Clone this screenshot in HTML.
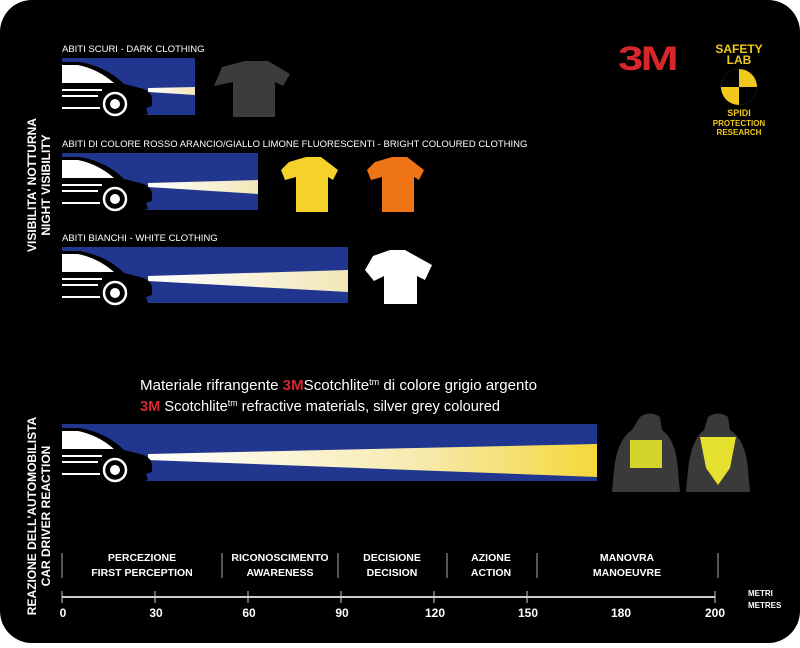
<!DOCTYPE html>
<html><head><meta charset="utf-8"><style>
html,body{margin:0;padding:0;background:#fff;}
body{width:800px;height:643px;overflow:hidden;font-family:"Liberation Sans",Arial,sans-serif;}
</style></head><body>
<svg width="800" height="643" viewBox="0 0 800 643" xmlns="http://www.w3.org/2000/svg">
<defs>
<linearGradient id="beam" x1="0" x2="1" y1="0" y2="0">
<stop offset="0" stop-color="#ffffff"/><stop offset="0.6" stop-color="#f7eab0"/><stop offset="1" stop-color="#f5d83a"/>
</linearGradient>
<linearGradient id="beam2" x1="0" x2="1"><stop offset="0" stop-color="#fff"/><stop offset="1" stop-color="#f2e6b8"/></linearGradient>
<g id="car">
<path d="M0 0 L18 0 Q45 5 62 22 L78 26 Q88 28 90 36 L90 44 L84 46 L86 52 L78 54 L0 54 Z" fill="#000"/>
<path d="M0 3 L16 3 Q36 7 52 21 L0 21 Z" fill="#fff"/>
<path d="M0 28 L40 28 M0 34 L36 34 M0 46 L38 46" stroke="#fff" stroke-width="2"/>
<circle cx="53" cy="42" r="11" fill="#000" stroke="#fff" stroke-width="2.5"/>
<circle cx="53" cy="42" r="5" fill="#fff"/>
</g>
</defs>
<rect x="0" y="0" width="800" height="643" rx="32" fill="#000"/>

<g fill="#fff" font-weight="bold" font-size="12">
<text transform="translate(36,185) rotate(-90)" text-anchor="middle">VISIBILITA' NOTTURNA</text>
<text transform="translate(50,185) rotate(-90)" text-anchor="middle">NIGHT VISIBILITY</text>
<text transform="translate(36,516) rotate(-90)" text-anchor="middle">REAZIONE DELL'AUTOMOBILISTA</text>
<text transform="translate(50,516) rotate(-90)" text-anchor="middle">CAR DRIVER REACTION</text>
</g>

<g fill="#fff" font-size="9.5">
<text x="62" y="52">ABITI SCURI - DARK CLOTHING</text>
<text x="62" y="147">ABITI DI COLORE ROSSO ARANCIO/GIALLO LIMONE FLUORESCENTI - BRIGHT COLOURED CLOTHING</text>
<text x="62" y="241">ABITI BIANCHI - WHITE CLOTHING</text>
</g>

<rect x="62" y="58" width="133" height="57" fill="#21368f"/>
<polygon points="148,88 195,87 195,95 148,92" fill="url(#beam2)"/>
<use href="#car" x="62" y="62"/>
<rect x="62" y="153" width="196" height="57" fill="#21368f"/>
<polygon points="148,183 258,180 258,194 148,187" fill="url(#beam2)"/>
<use href="#car" x="62" y="157"/>
<rect x="62" y="247" width="286" height="56" fill="#21368f"/>
<polygon points="148,276 348,270 348,292 148,281" fill="url(#beam2)"/>
<use href="#car" x="62" y="251"/>
<rect x="62" y="424" width="535" height="57" fill="#21368f"/>
<polygon points="148,454 597,444 597,477 148,460" fill="url(#beam)"/>
<use href="#car" x="62" y="428"/>

<path d="M222 67 L245 61 L268 61 L290 74 L283 86 L275 82 L275 117 L233 117 L233 82 L214 86 Z" fill="#3c3c3c"/>
<path d="M289 162 L306 157 L321 157 L338 170 L333 180 L328 177 L328 212 L296 212 L296 177 L285 180 L281 170 Z" fill="#f4d22a"/>
<path d="M375 162 L392 157 L407 157 L424 170 L419 180 L414 177 L414 212 L382 212 L382 177 L371 180 L367 170 Z" fill="#ef7416"/>
<path d="M373 256 L390 250 L405 250 L432 265 L425 280 L417 276 L417 304 L384 304 L384 276 L374 281 L365 270 Z" fill="#fff"/>

<path d="M640 417 Q650 410 660 417 L662 430 Q676 440 678 470 L680 492 L612 492 L614 470 Q617 440 632 430 Z" fill="#3a3a3a"/>
<rect x="630" y="440" width="32" height="28" fill="#d4d42a"/>
<path d="M708 417 Q718 410 728 417 L730 430 Q746 440 748 470 L750 492 L686 492 L688 470 Q691 440 704 430 Z" fill="#3a3a3a"/>
<polygon points="700,437 736,437 730,468 718,485 706,468" fill="#e6e12e"/>

<text x="618" y="70" fill="#d8262b" font-weight="bold" font-size="34" letter-spacing="-2" textLength="58" lengthAdjust="spacingAndGlyphs">3M</text>
<g fill="#f0c81e" font-weight="bold" text-anchor="middle">
<text x="739" y="53" font-size="12">SAFETY</text>
<text x="739" y="64" font-size="12">LAB</text>
<text x="739" y="116" font-size="9">SPIDI</text>
<text x="739" y="126" font-size="8">PROTECTION</text>
<text x="739" y="135" font-size="8">RESEARCH</text>
</g>
<circle cx="739" cy="87" r="18" fill="#f0c81e"/>
<path d="M739 87 L739 69 A18 18 0 0 0 721 87 Z M739 87 L739 105 A18 18 0 0 0 757 87 Z" fill="#000"/>

<g font-size="15" fill="#fff">
<text x="140" y="390" textLength="397" lengthAdjust="spacingAndGlyphs">Materiale rifrangente <tspan fill="#d8262b" font-weight="bold">3M</tspan>Scotchlite<tspan font-size="9" dy="-5">tm</tspan><tspan dy="5"> di colore grigio argento</tspan></text>
<text x="140" y="411" textLength="360" lengthAdjust="spacingAndGlyphs"><tspan fill="#d8262b" font-weight="bold">3M</tspan> Scotchlite<tspan font-size="9" dy="-5">tm</tspan><tspan dy="5"> refractive materials, silver grey coloured</tspan></text>
</g>

<g stroke="#aaa" stroke-width="1">
<line x1="62" y1="553" x2="62" y2="578"/><line x1="222" y1="553" x2="222" y2="578"/>
<line x1="338" y1="553" x2="338" y2="578"/><line x1="447" y1="553" x2="447" y2="578"/>
<line x1="537" y1="553" x2="537" y2="578"/><line x1="718" y1="553" x2="718" y2="578"/>
</g>
<g fill="#fff" font-size="10.5" font-weight="bold" text-anchor="middle">
<text x="142" y="561">PERCEZIONE</text><text x="142" y="576">FIRST PERCEPTION</text>
<text x="280" y="561">RICONOSCIMENTO</text><text x="280" y="576">AWARENESS</text>
<text x="392" y="561">DECISIONE</text><text x="392" y="576">DECISION</text>
<text x="491" y="561">AZIONE</text><text x="491" y="576">ACTION</text>
<text x="627" y="561">MANOVRA</text><text x="627" y="576">MANOEUVRE</text>
</g>
<line x1="62" y1="597" x2="715" y2="597" stroke="#ccc" stroke-width="2"/>
<g stroke="#ccc" stroke-width="1">
<line x1="62" y1="591" x2="62" y2="603"/><line x1="155" y1="591" x2="155" y2="603"/>
<line x1="248" y1="591" x2="248" y2="603"/><line x1="341" y1="591" x2="341" y2="603"/>
<line x1="434" y1="591" x2="434" y2="603"/><line x1="527" y1="591" x2="527" y2="603"/>
<line x1="715" y1="591" x2="715" y2="603"/>
</g>
<g fill="#fff" font-size="12" font-weight="bold" text-anchor="middle">
<text x="63" y="617">0</text><text x="156" y="617">30</text><text x="249" y="617">60</text>
<text x="342" y="617">90</text><text x="435" y="617">120</text><text x="528" y="617">150</text>
<text x="621" y="617">180</text><text x="715" y="617">200</text>
</g>
<g fill="#fff" font-size="8" font-weight="bold">
<text x="748" y="596">METRI</text><text x="748" y="608">METRES</text>
</g>
</svg>
</body></html>
